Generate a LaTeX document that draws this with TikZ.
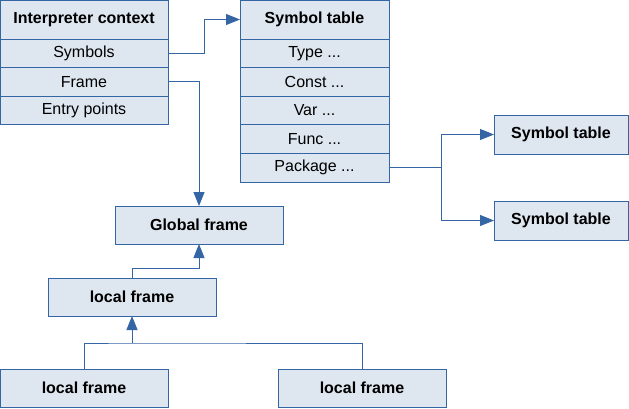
\documentclass[tikz,border=0pt]{standalone}
\usepackage{fontspec}
\setmainfont{Liberation Sans}
\usepackage{tikz}
\usetikzlibrary{positioning,arrows.meta}
\definecolor{boxfill}{HTML}{DEE6EF}
\definecolor{boxline}{HTML}{3465A4}

\begin{document}
\begin{tikzpicture}[x=1pt,y=-1pt,
  every node/.style={font=\fontsize{16}{19}\selectfont},
  cell/.style={draw=boxline,fill=boxfill,line width=1pt,inner sep=0pt,outer sep=0pt,
    anchor=north west,minimum height=28.6pt},
  head/.style={cell,font=\fontsize{16}{19}\selectfont\bfseries,minimum height=39pt},
  link/.style={draw=boxline,line width=1pt},
  tip/.style={link,-{Triangle[length=14pt,width=11pt]}}]
  \useasboundingbox (0,0) rectangle (629,408);

  % interpreter context
  \node[head,minimum width=168pt] (ctx) at (0,0) {Interpreter context};
  \node[cell,minimum width=168pt,below=0pt of ctx] (ctx-sym) {Symbols};
  \node[cell,minimum width=168pt,below=0pt of ctx-sym] (ctx-frame) {Frame};
  \node[cell,minimum width=168pt,below=0pt of ctx-frame] (ctx-entry) {Entry points};

  % symbol table
  \node[head,minimum width=149pt] (st) at (240,0) {Symbol table};
  \node[cell,minimum width=149pt,below=0pt of st] (st-type) {Type ...};
  \node[cell,minimum width=149pt,below=0pt of st-type] (st-const) {Const ...};
  \node[cell,minimum width=149pt,below=0pt of st-const] (st-var) {Var ...};
  \node[cell,minimum width=149pt,below=0pt of st-var] (st-func) {Func ...};
  \node[cell,minimum width=149pt,below=0pt of st-func] (st-pkg) {Package ...};

  \node[head,minimum width=134pt] (st2) at (494,115) {Symbol table};
  \node[head,minimum width=134pt] (st3) at (494,201) {Symbol table};

  % frames
  \node[head,minimum width=168pt,minimum height=38pt] (glob) at (115,206) {Global frame};
  \node[head,minimum width=168pt,minimum height=38pt] (loc) at (48,278) {local frame};
  \node[head,minimum width=168pt,minimum height=38pt] (bl) at (0,369) {local frame};
  \node[head,minimum width=168pt,minimum height=38pt] (br) at (278,369) {local frame};

  \draw[tip] (ctx-sym.east) -- ++(36,0) |- (st.west);
  \draw[tip] (ctx-frame.east) -| (glob.north);
  \draw[tip] (st-pkg.east) -- ++(52,0) |- (st2.west);
  \draw[tip] (st-pkg.east) -- ++(52,0) |- (st3.west);
  \draw[tip] (loc.north) -- ++(0,-10) -| (glob.south);
  \path (loc.south) ++(0,27) coordinate (join);
  \draw[link] (bl.north) |- (join) -| (br.north);
  \draw[tip] (join) -- (loc.south);
\end{tikzpicture}
\end{document}
